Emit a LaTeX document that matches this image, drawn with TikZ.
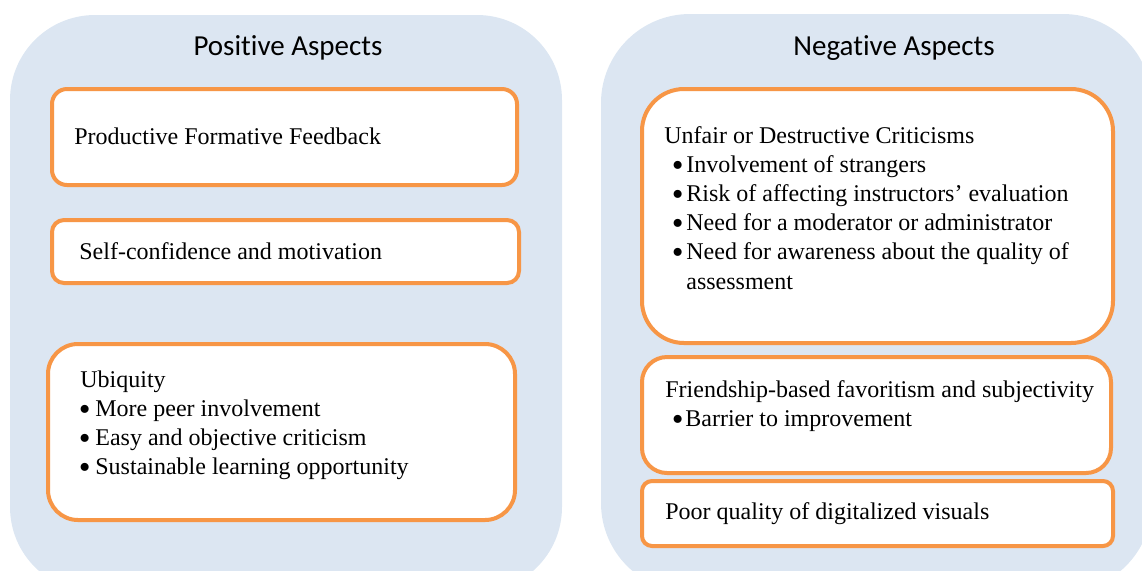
\documentclass[tikz,border=0pt]{standalone}
\usepackage{fontspec}
\setmainfont{Liberation Serif}
\newfontfamily\titlefont[Ligatures=NoCommon]{Carlito}
\definecolor{boxorange}{HTML}{F79646}
\definecolor{contblue}{HTML}{DCE6F2}
\tikzset{
  cont/.style={fill=contblue, draw=none, rectangle, inner sep=0pt},
  obox/.style={draw=boxorange, line width=2pt, fill=white, rectangle, inner sep=0pt},
  ttl/.style={anchor=base, inner sep=0pt, font=\titlefont\fontsize{14.5}{17}\selectfont},
  txt/.style={anchor=base west, inner sep=0pt, font=\fontsize{12}{14.6}\selectfont},
}
\newcommand{\bigbul}{\hspace*{-0.8pt}\raisebox{-1.9pt}{\scalebox{1.4}{\textbullet}}}
\newcommand{\lbul}[1]{\makebox[7.5pt][l]{\bigbul}#1}
\newcommand{\rbul}[1]{\hspace*{4.5pt}\makebox[6.5pt][l]{\bigbul}#1}
\newcommand{\fbul}[1]{\hspace*{4pt}\makebox[6pt][l]{\bigbul}#1}
\begin{document}
\begin{tikzpicture}[x=0.5pt, y=-0.5pt]
\clip (0,0) rectangle (1142,570);
% containers
\node[cont, minimum width=276pt, minimum height=288.5pt, rounded corners=42.5pt] (posc) at (286,303.5) {};
\node[cont, minimum width=275.5pt, minimum height=289pt, rounded corners=44.5pt] (negc) at (876.5,303) {};
\node[ttl] (post) at (288,55) {Positive Aspects};
\node[ttl] (negt) at (894,55) {Negative Aspects};
% left boxes
\node[obox, minimum width=232.5pt, minimum height=48pt, rounded corners=7.5pt] (b1) at (284.5,137) {};
\node[obox, minimum width=233.5pt, minimum height=31.5pt, rounded corners=6pt] (b2) at (285.5,251.5) {};
\node[obox, minimum width=233.5pt, minimum height=88pt, rounded corners=15pt] (b3) at (281.5,432) {};
% right boxes
\node[obox, minimum width=235.5pt, minimum height=127pt, rounded corners=21pt] (ba) at (877.5,216) {};
\node[obox, minimum width=234.5pt, minimum height=58pt, rounded corners=12.5pt] (bb) at (876.5,415) {};
\node[obox, minimum width=235.5pt, minimum height=32.5pt, rounded corners=5pt] (bc) at (877.5,513.5) {};
% texts
\node[txt] (t1) at (74,144) {Productive Formative Feedback};
\node[txt] (t2) at (79,259) {Self-confidence and motivation};
\node[txt] (t3) at (80,387) {\begin{tabular}[t]{@{}l@{}}Ubiquity\\
\lbul{More peer involvement}\\
\lbul{Easy and objective criticism}\\
\lbul{Sustainable learning opportunity}\end{tabular}};
\node[txt] (ta) at (664,143) {\begin{tabular}[t]{@{}l@{}}Unfair or Destructive Criticisms\\
\rbul{Involvement of strangers}\\
\rbul{Risk of affecting instructors’ evaluation}\\
\rbul{Need for a moderator or administrator}\\
\rbul{Need for awareness about the quality of}\\
\hspace*{11pt}assessment\end{tabular}};
\node[txt] (tb) at (665,397) {\begin{tabular}[t]{@{}l@{}}Friendship-based favoritism and subjectivity\\
\fbul{Barrier to improvement}\end{tabular}};
\node[txt] (tc) at (665,519) {Poor quality of digitalized visuals};
\end{tikzpicture}
\end{document}
